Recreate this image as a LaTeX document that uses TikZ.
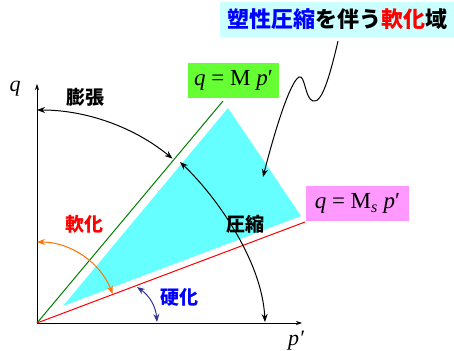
\documentclass[tikz,border=0pt]{standalone}
\usepackage{fontspec}
\setmainfont{Liberation Serif}
\newfontfamily\jp{Noto Sans CJK JP}[BoldFont={Noto Sans CJK JP Black}]
\definecolor{critgreen}{RGB}{0,128,0}
\definecolor{boxgreen}{RGB}{102,255,51}
\definecolor{boxpink}{RGB}{255,153,255}
\definecolor{zonecyan}{RGB}{102,255,255}
\definecolor{titlebg}{RGB}{204,255,255}
\definecolor{softorange}{RGB}{255,112,0}
\definecolor{hardnavy}{RGB}{51,51,153}
\usetikzlibrary{arrows.meta, positioning}
\tikzset{
  axis/.style={-{Stealth[length=6pt,width=4pt]}, line width=0.7pt},
  arc2/.style={{Stealth[length=8pt,width=6pt]}-{Stealth[length=8pt,width=6pt]}, line width=1pt},
  arc1/.style={-{Stealth[length=8pt,width=6pt]}, line width=1pt},
  label/.style={font=\jp\bfseries\fontsize{19}{19}\selectfont, inner sep=0pt},
  eqbox/.style={rectangle, inner sep=0pt, minimum height=35pt,
    font=\fontsize{23}{23}\selectfont},
}
\begin{document}
\begin{tikzpicture}[x=1pt, y=1pt]
  \useasboundingbox (0,0) rectangle (454,350);
  \coordinate (O) at (37,27);
  \coordinate (qend) at (37,266);
  \coordinate (pend) at (302,27);
  \coordinate (Mend) at (223,249);
  \coordinate (Msend) at (305,128);

  \fill[zonecyan] (63,44) -- (228,242) -- (301,134) -- cycle;

  \draw[axis] (O) -- (qend);
  \draw[axis] (O) -- (pend);
  \draw[critgreen, line width=1pt] (O) -- (Mend);
  \draw[red, line width=1pt] (O) -- (Msend);

  \node[font=\itshape\fontsize{22}{22}\selectfont] (qlab) at (15,261) {q};
  \node[font=\itshape\fontsize{22}{22}\selectfont] (plab) at (296,9) {p′};

  \node[eqbox, fill=boxgreen, minimum width=91pt] (Mline) at (233.5,269.5)
    {\textit{q} = M \textit{p}′};
  \node[eqbox, fill=boxpink, minimum width=103pt] (Msline) at (357.5,146.5)
    {\textit{q} = M\textsubscript{\textit{s}} \textit{p}′};

  \node[rectangle, fill=titlebg, minimum width=234pt, minimum height=35pt,
    inner sep=0pt, font=\jp\bfseries\fontsize{22}{22}\selectfont] (title) at (337,330.5)
    {{\color{blue}塑性圧縮}を伴う{\color{red}軟化}域};

  \coordinate (zone) at (263,173);
  \draw[arc1] ([xshift=1pt,yshift=-4pt]title.south) .. controls (330,275) and (322,246) .. (313,249)
    .. controls (305,251) and (305,276) .. (299,273)
    .. controls (290,268) and (275,220) .. (zone);

  \draw[arc2] ([shift={(90:213)}]O) arc[start angle=90, end angle=50.5, radius=213];
  \draw[arc2] (180,188) .. controls (215,155) and (262,90) .. (265,28);
  \draw[arc2, softorange] ([shift={(90:81)}]O) arc[start angle=90, end angle=21, radius=81];
  \draw[arc2, hardnavy] (137,63) to[bend left=25] (157,28);

  \node[label] (swell) at (85,252.5) {膨張};
  \node[label, red] (soft) at (84,126) {軟化};
  \node[label, blue] (hard) at (179,53) {硬化};
  \node[label] (comp) at (245.5,126) {圧縮};
\end{tikzpicture}
\end{document}
